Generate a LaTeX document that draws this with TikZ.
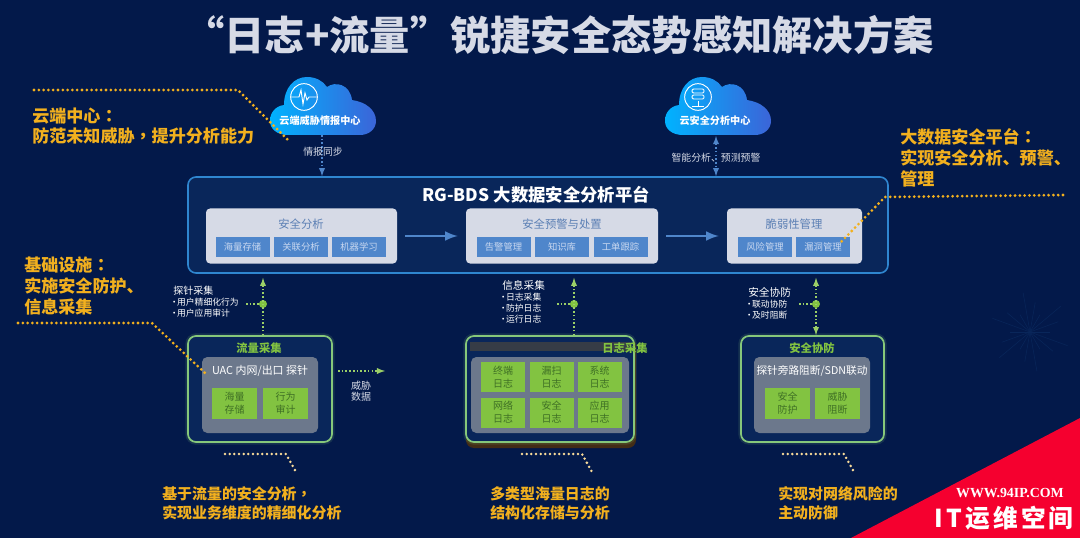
\documentclass[tikz,border=0pt]{standalone}
\usepackage{fontspec}
\setmainfont{Noto Sans CJK SC}
\newfontfamily\wmserif{Liberation Serif}
\newfontfamily\wmwide[LetterSpace=13]{Noto Sans CJK SC}
\newfontfamily\midpunct{Noto Sans CJK TC}
\newcommand{\itemdot}{\kern-2.5pt•\kern-1.2pt}
\definecolor{navy}{HTML}{03194A}
\definecolor{panel}{HTML}{09265A}
\definecolor{edgeblue}{HTML}{2F86D0}
\definecolor{pale}{HTML}{D6DAE6}
\definecolor{tile}{HTML}{4F86CB}
\definecolor{tiletext}{HTML}{C9D8F0}
\definecolor{headtext}{HTML}{5B7FB4}
\definecolor{gold}{HTML}{F2B01E}
\definecolor{leaf}{HTML}{82C341}
\definecolor{leaftext}{HTML}{3F7025}
\definecolor{edgegreen}{HTML}{86C77A}
\definecolor{slate}{HTML}{6C788C}
\definecolor{stripe}{HTML}{F5002F}
\tikzset{
  boxsize/.style 2 args={minimum width=#1*.75pt, minimum height=#2*.75pt, inner sep=0pt},
  section/.style={fill=pale, rounded corners=3pt},
  subtile/.style={fill=tile, text=tiletext, font=\fontsize{7}{8}\selectfont},
  sechead/.style={text=headtext, inner sep=0pt, font=\fontsize{8.5}{10}\selectfont},
  guard/.style={draw=edgegreen, fill=panel, line width=1.3pt, rounded corners=6pt,
    preaction={draw=edgegreen, draw opacity=.15, line width=4pt}},
  core/.style={fill=slate, rounded corners=4pt},
  greentile/.style={fill=leaf, text=leaftext, align=center, font=\fontsize{7.5}{9.7}\selectfont},
  greenhead/.style={text=leaf, inner sep=0pt, font=\fontsize{8.5}{10}\bfseries\selectfont},
  callout/.style={text=gold, anchor=west, align=left, inner sep=0pt, font=\fontsize{12.8}{15.6}\bfseries\selectfont},
  verdict/.style={text=gold, anchor=west, align=left, inner sep=0pt, font=\fontsize{11.2}{14.4}\bfseries\selectfont},
  note/.style={text=white, anchor=north west, align=left, inner sep=0pt, font=\fontsize{6.6}{8.2}\selectfont},
  leader/.style={draw=gold, line width=2.3pt, line cap=round, dash pattern=on 0pt off 3.6pt},
  sideleader/.style={draw=#1, line width=2.1pt, line cap=round, dash pattern=on 0pt off 3.5pt},
  blueflow/.style={draw=tile, line width=1.1pt, dash pattern=on 1.2pt off 1.6pt},
  greenflow/.style={draw=leaf!80!white, line width=1.1pt, dash pattern=on 1.2pt off 1.6pt},
  gdot/.style={circle, fill=leaf, inner sep=0pt, minimum size=6pt}
}
\begin{document}
\begin{tikzpicture}[>=latex, x=.75pt, y=-.75pt]
\useasboundingbox (0,0) rectangle (1080,538);
\fill[navy] (0,0) rectangle (1080,538);
\foreach \a in {0,20,...,340}
{
    \draw[panel, line width=.4pt] (1030,332)--++(\a:{20+10*mod(\a,3)});
}
\node[text=pale, inner sep=0pt, font=\fontsize{30.2}{34}\bfseries\selectfont] (title) at (559,35) {“日志+流量”锐捷安全态势感知解决方案};

\foreach \cx/\cid in {0/cloudA,395/cloudB}
{
    \shade[shift={(\cx,0)}, left color=cyan!70!blue, right color=tile!75!blue]
      (288,135) .. controls (277,135) and (270,129) .. (270,121)
      .. controls (270,112) and (276,106) .. (284,105)
      .. controls (284,88) and (294,77) .. (307,77)
      .. controls (316,77) and (323,81) .. (327,87)
      .. controls (335,81) and (350,84) .. (352,100)
      .. controls (366,102) and (376,110) .. (376,121)
      .. controls (376,129) and (369,135) .. (360,135)--cycle;
}
\node[circle, draw=white, line width=.7pt, minimum size=20pt, inner sep=0pt] (iconA) at (304,97) {};
\node[circle, draw=white, line width=.7pt, minimum size=20pt, inner sep=0pt] (iconB) at (698,97) {};
\draw[white, line width=.7pt] (iconA.west)--(299,97)--(301,90)--(303,104)--(305,93)--(307,100)--(309,97)--(iconA.east);
\foreach \y in {91,97}
{
    \draw[white, line width=.7pt, rounded corners=1pt] (692,\y-2) rectangle (704,\y+2);
}
\draw[white, line width=.7pt] (698,101)--(698,106) (692,106)--(704,106);
\node[text=white, inner sep=0pt, font=\fontsize{7.6}{9}\bfseries\selectfont] (cloudtextA) at (320,121) {云端威胁情报中心};
\node[text=white, inner sep=0pt, font=\fontsize{7.6}{9}\bfseries\selectfont] (cloudtextB) at (715,121) {云安全分析中心};
\coordinate (cloudA) at (322,135);
\coordinate (cloudB) at (716,136);

\node[draw=edgeblue, fill=panel, line width=1.2pt, rounded corners=6pt, boxsize={700}{96}] (platform) at (538,225) {};
\draw[blueflow, ->] (cloudA)--(cloudA |- platform.north);
\draw[blueflow, <->] (cloudB)--(cloudB |- platform.north);
\node[text=pale, inner sep=.5pt, font=\fontsize{7.4}{9}\selectfont] (syncnote) at (323,152) {情报同步};
\node[text=pale, inner sep=.5pt, font=\fontsize{7.4}{9}\selectfont] (smartnote) at (716,158) {智能分析、预测预警};
\node[text=white, inner sep=0pt, font=\fontsize{13}{15}\bfseries\selectfont] (platformhead) at (536,195) {RG-BDS 大数据安全分析平台};

\node[section, boxsize={191}{55}] (secA) at (301.5,236) {};
\node[section, boxsize={192}{55}] (secB) at (562,236) {};
\node[section, boxsize={135}{55}] (secC) at (794.5,236) {};
\node[sechead] (headA) at (301,224) {安全分析};
\node[sechead] (headB) at (562,224) {安全预警与处置};
\node[sechead] (headC) at (794,224) {脆弱性管理};
\foreach \x/\subid/\subtext in {242.5/store/海量存储,301/relate/关联分析,359/learn/机器学习,503.5/alarm/告警管理,562/know/知识库,620.5/ticket/工单跟踪,765/risk/风险管理,823/vuln/漏洞管理}
{
    \node[subtile, boxsize={54}{20}] (\subid) at (\x,247) {\subtext};
}
\draw[->, tile, line width=2.2pt, shorten <=6pt, shorten >=6pt] (secA.east)--(secB.west);
\draw[->, tile, line width=2.2pt, shorten <=6pt, shorten >=6pt] (secB.east)--(secC.west);

\node[guard, boxsize={144}{106}] (flowbox) at (260,389) {};
\node[fill=brown!35!black, rounded corners=6pt, boxsize={170}{110}] (logshade) at (551,393) {};
\node[guard, boxsize={168}{106}] (logbox) at (550,389) {};
\node[fill=slate!50!black, boxsize={160}{9}] (logband) at (550,346) {};
\node[guard, boxsize={143}{106}] (safebox) at (812.5,389) {};
\node[core, boxsize={116}{76}] (flowcore) at (260,395) {};
\node[core, boxsize={158}{76}] (logcore) at (550,395) {};
\node[core, boxsize={116}{76}] (safecore) at (812,395) {};
\node[greenhead] (flowhead) at (259,348) {流量采集};
\node[greenhead] (loghead) at (625,348) {日志采集};
\node[greenhead] (safehead) at (812,348) {安全协防};
\node[text=white, inner sep=0pt, font=\fontsize{8.2}{10}\selectfont] (flowprobe) at (260,371) {UAC 内网/出口 探针};
\node[text=white, inner sep=0pt, font=\fontsize{8}{10}\selectfont] (safeprobe) at (812,371) {探针旁路阻断/SDN联动};
\foreach \x/\y/\tileid/\tiletop/\tilebottom in {234.5/403.5/mass/海量/存储,285.5/403.5/audit/行为/审计,787.5/403.5/guardtile/安全/防护,837.5/403.5/block/威胁/阻断}
{
    \node[greentile, boxsize={45}{31}] (\tileid) at (\x,\y) {\tiletop\\\tilebottom};
}
\foreach \x/\y/\tileid/\tiletop/\tilebottom in {503/377/term/终端/日志,551.5/377/scan/漏扫/日志,599.5/377/sys/系统/日志,503/412.5/net/网络/日志,551.5/412.5/sec/安全/日志,599.5/412.5/app/应用/日志}
{
    \node[greentile, boxsize={44}{30}] (\tileid) at (\x,\y) {\tiletop\\\tilebottom};
}

\foreach \x/\dotid/\tailid/\boxid/\tip in {263/dotA/tailA/flowbox/->,574/dotB/tailB/logbox/->,816/dotC/tailC/safebox/<->}
{
    \node[gdot] (\dotid) at (\x,304) {};
    \coordinate (\tailid) at (\x-17,304);
    \draw[greenflow, \tip, shorten >=3pt] (\dotid |- \boxid.north)--(\dotid |- platform.south);
    \draw[greenflow] (\tailid)--(\dotid);
}
\node[note] (probenote) at (173,286) {{\fontsize{7.5}{9}\selectfont 探针采集}\\\itemdot 用户精细化行为\\\itemdot 用户应用审计};
\node[note] (infonote) at (502,280) {{\fontsize{8}{9}\selectfont 信息采集}\\\itemdot 日志采集\\\itemdot 防护日志\\\itemdot 运行日志};
\node[note] (coopnote) at (748,287) {{\fontsize{8}{9}\selectfont 安全协防}\\\itemdot 联动协防\\\itemdot 及时阻断};

\coordinate (threatstart) at (338,371);
\coordinate (threatend) at (385,371);
\draw[greenflow, ->] (threatstart)--(threatend);
\node[text=pale, align=center, inner sep=0pt, font=\fontsize{7.5}{8.4}\selectfont] (threatnote) at (361,391) {威胁\\数据};

\node[callout] (cloudcall) at (32,126) {云端中心{\midpunct ：}\\防范未知威胁{\midpunct ，}提升分析能力};
\node[callout] (basecall) at (24,286) {基础设施{\midpunct ：}\\实施安全防护、\\信息采集};
\node[callout] (bigcall) at (900,158) {大数据安全平台{\midpunct ：}\\实现安全分析、预警、\\管理};
\node[verdict] (flowcall) at (162,503) {基于流量的安全分析{\midpunct ，}\\实现业务维度的精细化分析};
\node[verdict] (logcall) at (490,503) {多类型海量日志的\\结构化存储与分析};
\node[verdict] (safecall) at (778,503) {实现对网络风险的\\主动防御};

\coordinate (cloudleadA) at (34,90);
\coordinate (cloudleadB) at (238,90);
\coordinate (cloudleadC) at (288,140);
\draw[leader] (cloudleadA)--(cloudleadB)--(cloudleadC);
\coordinate (baseleadA) at (18,323);
\coordinate (baseleadB) at (152,323);
\coordinate (baseleadC) at (205,373);
\draw[leader] (baseleadA)--(baseleadB)--(baseleadC);
\coordinate (bigleadA) at (1063,195);
\coordinate (bigleadB) at (885,197);
\coordinate (bigleadC) at (840,243);
\draw[leader] (bigleadA)--(bigleadB)--(bigleadC);
\foreach \x/\w/\sid in {225/61/flow,522/60/log,783/61/safe}
{
    \coordinate (\sid leadA) at (\x,454);
    \coordinate (\sid leadB) at (\x+\w,454);
    \coordinate (\sid leadC) at (\x+\w+10,472);
    \draw[sideleader=gold!45!white] (\sid leadA)--(\sid leadB)--(\sid leadC);
}

\fill[stripe] (851,538)--(1080,418)--(1080,538)--cycle;
\node[text=white, inner sep=0pt, font=\fontsize{10.4}{12}\bfseries\wmserif\selectfont] (wmurl) at (1010,493) {WWW.94IP.COM};
\node[text=white, inner sep=0pt, font=\fontsize{18.5}{22}\bfseries\wmwide\selectfont] (wmname) at (1004,518) {IT运维空间};
\end{tikzpicture}
\end{document}
